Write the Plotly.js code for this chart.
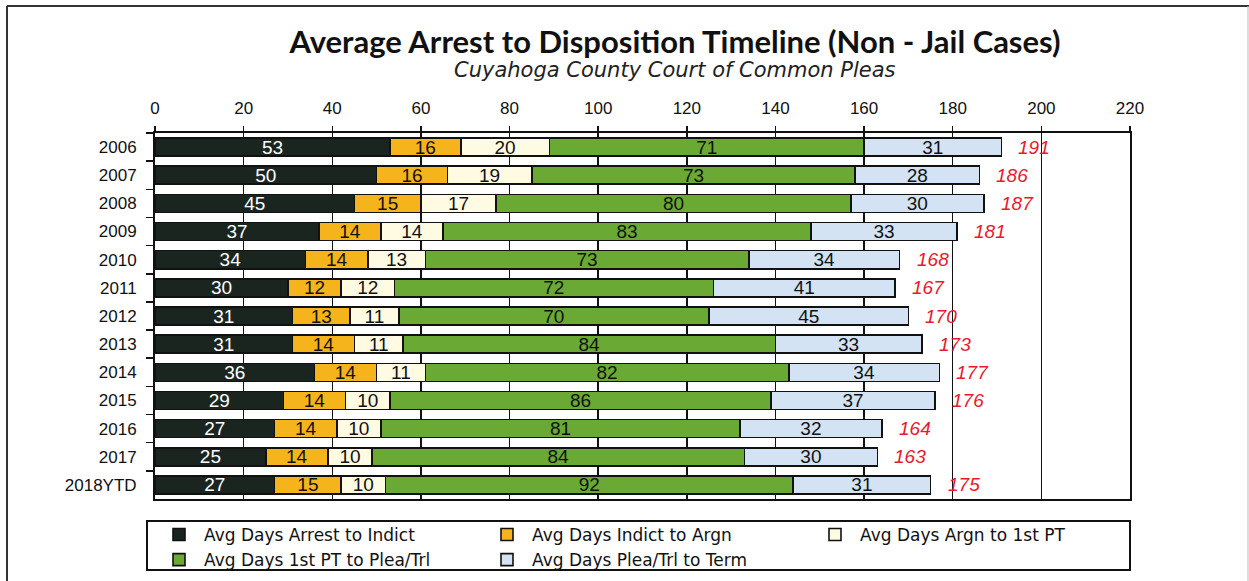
<!DOCTYPE html>
<html>
<head>
<meta charset="utf-8">
<script src="https://cdn.plot.ly/plotly-3.0.1.min.js"></script>
<style>
  html, body { margin: 0; padding: 0; background: #ffffff; }
  #chart { width: 1249px; height: 581px; }
</style>
</head>
<body>
<div id="chart"></div>
<script>
// ---- Data ----
const years = ["2006","2007","2008","2009","2010","2011","2012","2013","2014","2015","2016","2017","2018YTD"];
const arrestToIndict = [53, 50, 45, 37, 34, 30, 31, 31, 36, 29, 27, 25, 27];
const indictToArgn   = [16, 16, 15, 14, 14, 12, 13, 14, 14, 14, 14, 14, 15];
const argnTo1stPT    = [20, 19, 17, 14, 13, 12, 11, 11, 11, 10, 10, 10, 10];
const firstPTToPlea  = [71, 73, 80, 83, 73, 72, 70, 84, 82, 86, 81, 84, 92];
const pleaToTerm     = [31, 28, 30, 33, 34, 41, 45, 33, 34, 37, 32, 30, 31];
const totals         = [191, 186, 187, 181, 168, 167, 170, 173, 177, 176, 164, 163, 175];
const seriesNames = [
  "Avg Days Arrest to Indict",
  "Avg Days Indict to Argn",
  "Avg Days Argn to 1st PT",
  "Avg Days 1st PT to Plea/Trl",
  "Avg Days Plea/Trl to Term"
];
const xTicks = [0, 20, 40, 60, 80, 100, 120, 140, 160, 180, 200, 220];

// ---- Styling ----
const fills = ["#1b2520", "#f6b41c", "#fffbe3", "#69a934", "#d3e3f4"];
const textColors = ["#ffffff", "#111111", "#111111", "#111111", "#111111"];
const seriesValues = [arrestToIndict, indictToArgn, argnTo1stPT, firstPTToPlea, pleaToTerm];

const traces = seriesValues.map((vals, i) => ({
  type: "bar",
  orientation: "h",
  name: seriesNames[i],
  y: years,
  x: vals,
  marker: { color: fills[i], line: { color: "#111111", width: 1.6 } },
  text: vals.map(String),
  textposition: "inside",
  insidetextanchor: "middle",
  textangle: 0,
  constraintext: "none",
  textfont: { family: "Liberation Sans, Arial, sans-serif", size: 19, color: textColors[i] },
  hoverinfo: "skip",
  cliponaxis: false
}));

// geometry helpers (pixel -> paper) for decorative frame/box
const L = 155, R = 119, T = 133, B = 82, W = 1249, H = 581;
const pw = W - L - R, ph = H - T - B;
const px = v => (v - L) / pw;
const py = v => (H - B - v) / ph;

const totalAnnotations = years.map((yr, i) => ({
  x: totals[i], y: i, xref: "x", yref: "y",
  text: String(totals[i]),
  showarrow: false, xanchor: "left", xshift: 15,
  font: { family: "Liberation Sans, Arial, sans-serif", size: 19, color: "#e8192c", style: "italic" }
}));

const layout = {
  width: W, height: H,
  margin: { l: L, r: R, t: T, b: B, pad: 0, autoexpand: false },
  paper_bgcolor: "#ffffff",
  plot_bgcolor: "#ffffff",
  barmode: "stack",
  bargap: 0.36,
  showlegend: true,
  uniformtext: { minsize: 19, mode: "show" },
  title: {
    text: "<b>Average Arrest to Disposition Timeline (Non - Jail Cases)</b>",
    x: 675 / W, xanchor: "center", xref: "container",
    y: 1 - 42 / H, yanchor: "middle", yref: "container",
    font: { family: "Lato, Liberation Sans, sans-serif", size: 31, color: "#111111" }
  },
  xaxis: {
    side: "top",
    range: [0, 220],
    autorange: false,
    tickvals: xTicks,
    ticktext: xTicks.map(String),
    showgrid: true, gridcolor: "#111111", gridwidth: 1.5,
    zeroline: false,
    showline: true, linecolor: "#111111", linewidth: 2, mirror: true,
    ticks: "outside", ticklen: 5, tickcolor: "#111111", tickwidth: 1.5,
    tickfont: { family: "Liberation Sans, Arial, sans-serif", size: 17, color: "#111111" },
    ticklabelstandoff: 5,
    fixedrange: true
  },
  yaxis: {
    type: "category",
    categoryorder: "array", categoryarray: years,
    range: [years.length - 0.5, -0.5],
    autorange: false,
    showgrid: false,
    showline: true, linecolor: "#111111", linewidth: 2, mirror: true,
    ticks: "outside", tickson: "boundaries", ticklen: 7, tickcolor: "#111111", tickwidth: 1.5,
    tickfont: { family: "Liberation Sans, Arial, sans-serif", size: 17, color: "#111111" },
    ticklabelstandoff: 13,
    fixedrange: true
  },
  legend: {
    orientation: "h",
    x: px(154), xanchor: "left",
    y: py(517), yanchor: "top",
    traceorder: "normal",
    entrywidthmode: "pixels", entrywidth: 273,
    itemwidth: 40,
    bgcolor: "rgba(0,0,0,0)",
    borderwidth: 0,
    font: { family: "DejaVu Sans, sans-serif", size: 17, color: "#111111" }
  },
  annotations: [
    {
      text: "<i>Cuyahoga County Court of Common Pleas</i>",
      xref: "paper", yref: "paper", x: px(675), y: py(70),
      xanchor: "center", yanchor: "middle", showarrow: false,
      font: { family: "DejaVu Sans, sans-serif", size: 21, color: "#222222" }
    }
  ].concat(totalAnnotations),
  shapes: [
    // outer frame (top and left)
    { type: "line", xref: "paper", yref: "paper", x0: px(7), x1: px(1249), y0: py(6), y1: py(6), line: { color: "#333333", width: 2 } },
    { type: "line", xref: "paper", yref: "paper", x0: px(7), x1: px(7), y0: py(6), y1: py(581), line: { color: "#333333", width: 2 } },
    { type: "line", xref: "paper", yref: "paper", x0: px(1248), x1: px(1248), y0: py(6), y1: py(581), line: { color: "#bbbbbb", width: 1 } },
    // legend box
    { type: "rect", xref: "paper", yref: "paper", x0: px(147), x1: px(1130), y0: py(521), y1: py(570), line: { color: "#111111", width: 2 }, fillcolor: "rgba(0,0,0,0)" }
  ]
};

Plotly.newPlot("chart", traces, layout, { displayModeBar: false, staticPlot: true });
</script>
</body>
</html>
